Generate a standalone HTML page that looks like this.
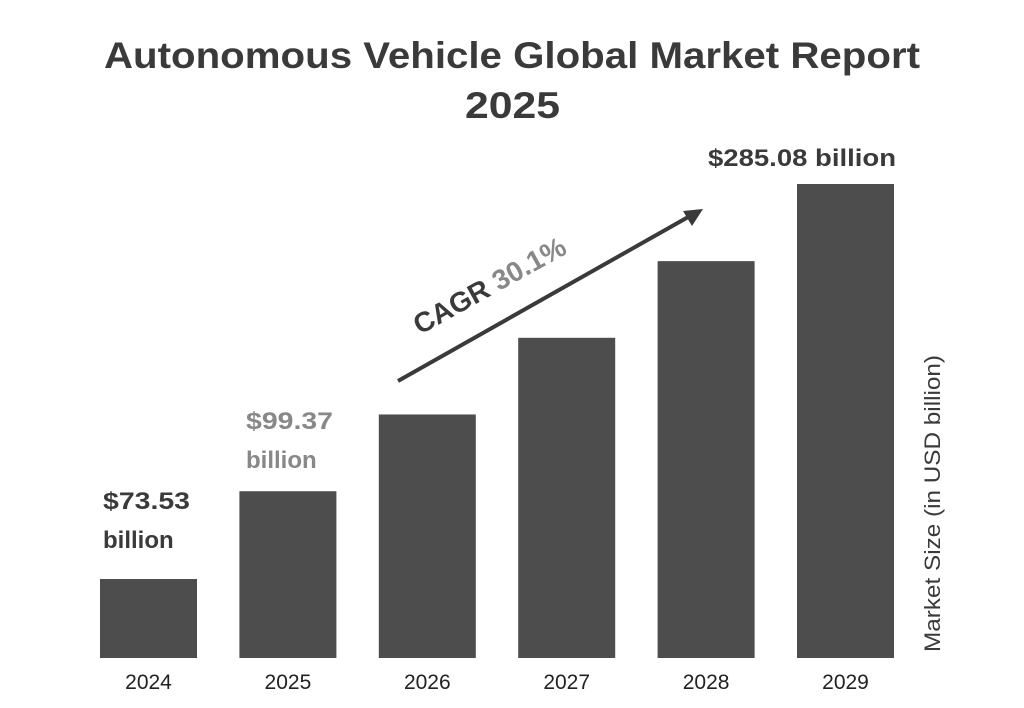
<!DOCTYPE html>
<html><head><meta charset="utf-8"><style>
body{margin:0;background:#fff;}
svg{display:block;font-family:"Liberation Sans",Arial,sans-serif;}
</style></head><body>
<svg id="chart" width="1024" height="708" viewBox="0 0 1024 708">
<text x="104" y="68" textLength="816" lengthAdjust="spacingAndGlyphs" font-size="37" font-weight="bold" fill="#3a3a3a">Autonomous Vehicle Global Market Report</text>
<text x="465" y="118" textLength="95" lengthAdjust="spacingAndGlyphs" font-size="37" font-weight="bold" fill="#3a3a3a">2025</text>
<g id="bars"></g>
<g id="xlabels"></g>
<text x="103" y="509" textLength="87" lengthAdjust="spacingAndGlyphs" font-size="24" font-weight="bold" fill="#3a3a3a">$73.53</text>
<text x="103" y="548" font-size="24" font-weight="bold" fill="#3a3a3a">billion</text>
<text x="246" y="429" textLength="87" lengthAdjust="spacingAndGlyphs" font-size="24" font-weight="bold" fill="#888">$99.37</text>
<text x="246" y="468" font-size="24" font-weight="bold" fill="#888">billion</text>
<text x="708" y="166" textLength="188" lengthAdjust="spacingAndGlyphs" font-size="24" font-weight="bold" fill="#3a3a3a">$285.08 billion</text>
<line x1="398" y1="381" x2="690" y2="216" stroke="#3a3a3a" stroke-width="4"/>
<polygon points="703,209 683,211 692,226" fill="#3a3a3a"/>
<text transform="translate(420,335) rotate(-29)" font-size="28" font-weight="bold"><tspan fill="#3a3a3a">CAGR </tspan><tspan fill="#888">30.1%</tspan></text>
<text transform="translate(940,652) rotate(-90)" textLength="297" lengthAdjust="spacingAndGlyphs" font-size="22" fill="#3a3a3a">Market Size (in USD billion)</text>
</svg>
<script>
const years = ["2024","2025","2026","2027","2028","2029"];
const values = [73.53, 99.37, 129.3, 168.2, 218.8, 285.08];
const baseY = 658, x0 = 100, step = 139.4, bw = 97;
const lmin = Math.log(73.53), lmax = Math.log(285.08);
function yH(v){ return 79 + (Math.log(v)-lmin)/(lmax-lmin)*395; }
function xPos(i){ return x0 + i*step; }
const ns="http://www.w3.org/2000/svg";
const bars=document.getElementById('bars'), xl=document.getElementById('xlabels');
values.forEach((v,i)=>{
  const r=document.createElementNS(ns,'rect');
  const h=yH(v);
  r.setAttribute('x',xPos(i)); r.setAttribute('y',baseY-h);
  r.setAttribute('width',bw); r.setAttribute('height',h);
  r.setAttribute('fill','#4d4d4d');
  
  
  bars.appendChild(r);
  const t=document.createElementNS(ns,'text');
  t.setAttribute('x',xPos(i)+bw/2); t.setAttribute('y',689);
  t.setAttribute('text-anchor','middle'); t.setAttribute('font-size','21'); t.setAttribute('fill','#222');
  t.textContent=years[i];
  
  
  xl.appendChild(t);
});
</script>
</body></html>
